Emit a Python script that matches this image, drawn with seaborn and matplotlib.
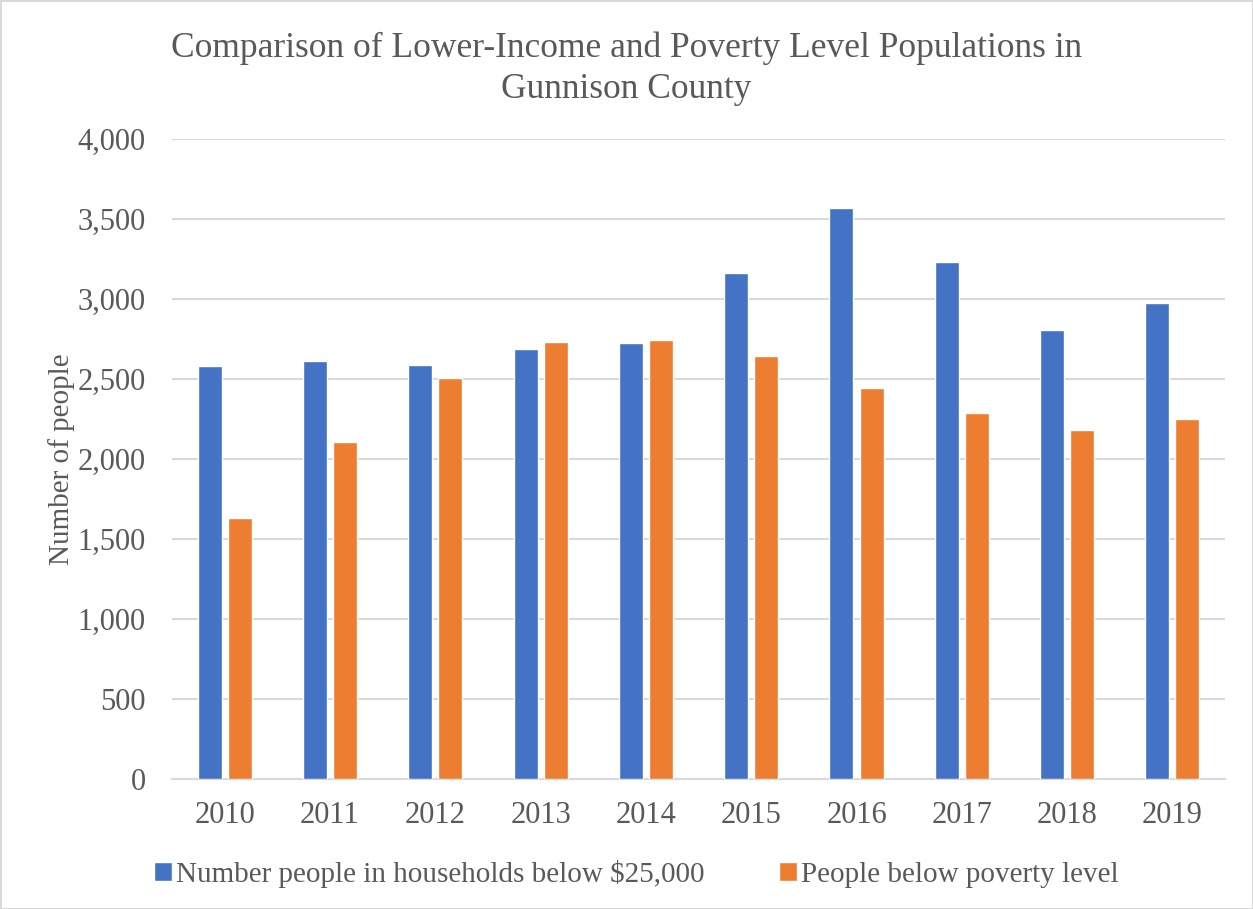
import pandas as pd
import matplotlib.pyplot as plt
import seaborn as sns

years = ["2010", "2011", "2012", "2013", "2014", "2015", "2016", "2017", "2018", "2019"]
below_25k = [2579, 2614, 2588, 2685, 2723, 3163, 3569, 3229, 2806, 2975]
below_poverty = [1631, 2106, 2506, 2729, 2744, 2646, 2446, 2287, 2181, 2250]
series_names = ["Number people in households below $25,000", "People below poverty level"]

df = pd.DataFrame({
    "Year": years * 2,
    "People": below_25k + below_poverty,
    "Series": [series_names[0]] * len(years) + [series_names[1]] * len(years),
})

sns.set_style("white")
plt.rcParams['font.family'] = ['Liberation Serif', 'DejaVu Serif']
text_col = "#595959"
grid_col = "#D9D9D9"

fig = plt.figure(figsize=(12.53, 9.09), dpi=100)
fig.patch.set_edgecolor(grid_col)
fig.patch.set_linewidth(2)
ax = fig.add_axes([0.1373, 0.143, 0.8404, 0.704])

sns.barplot(data=df, x="Year", y="People", hue="Series",
            palette=["#4472C4", "#ED7D31"], width=0.571, gap=0.2,
            saturation=1, ax=ax, zorder=3)

ax.set_ylim(0, 4000)
ax.set_yticks(range(0, 4001, 500))
ax.yaxis.set_major_formatter(plt.FuncFormatter(lambda v, p: f"{int(v):,}"))
ax.grid(axis="y", color=grid_col, linewidth=1.5, zorder=0)
for s in ["top", "right", "left"]:
    ax.spines[s].set_visible(False)
ax.spines["bottom"].set_color(grid_col)
ax.spines["bottom"].set_linewidth(1.5)
ax.tick_params(axis="both", length=0, labelsize=22, colors=text_col)
ax.tick_params(axis="y", pad=19)
ax.tick_params(axis="x", pad=16)
ax.set_xlabel("")
ax.set_ylabel("Number of people", fontsize=21, color=text_col, labelpad=2)

fig.suptitle("Comparison of Lower-Income and Poverty Level Populations in\nGunnison County",
             fontsize=25.5, color=text_col, y=0.965, linespacing=1.3)

handles, labels = ax.get_legend_handles_labels()
ax.legend(handles, labels, loc="upper center", bbox_to_anchor=(0.441, -0.085),
          ncol=2, frameon=False, fontsize=21, labelcolor=text_col,
          handlelength=0.6, handleheight=0.6, handletextpad=0.15, columnspacing=2.55)

plt.savefig("out.png", dpi=100)
